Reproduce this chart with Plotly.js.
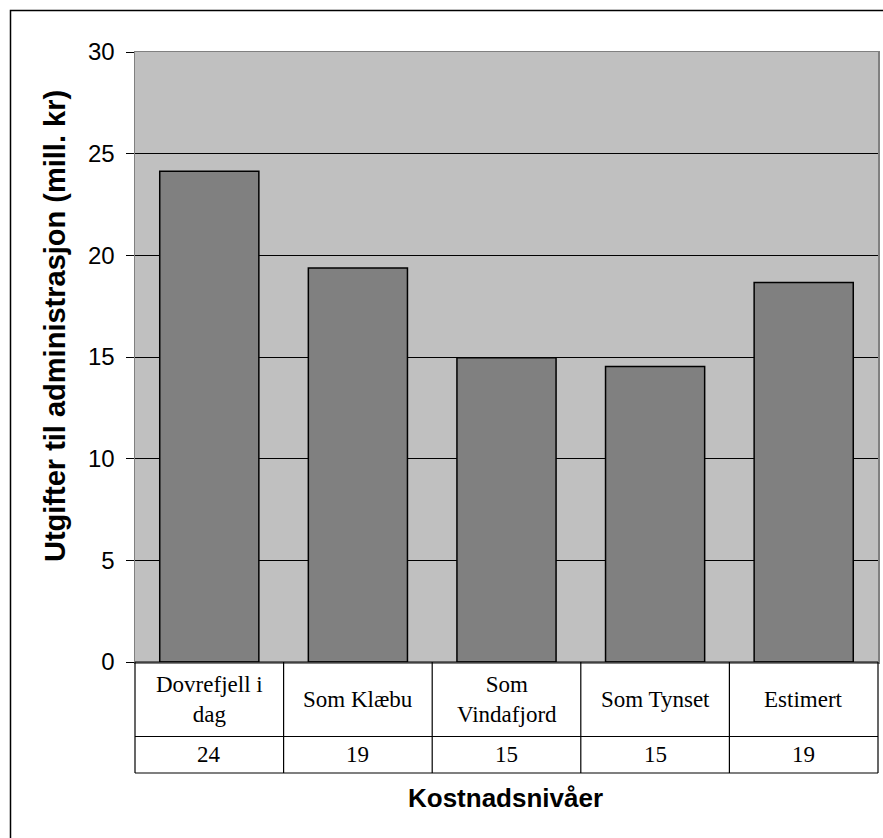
<!DOCTYPE html>
<html>
<head>
<meta charset="utf-8">
<script src="https://cdn.plot.ly/plotly-3.0.1.min.js"></script>
<style>
  html, body { margin: 0; padding: 0; background: #ffffff; }
  #chart { width: 883px; height: 838px; }
</style>
</head>
<body>
<div id="chart"></div>
<script>
// Administrative costs for Dovrefjell under different cost levels (mill. kr)
const categories = ['Dovrefjell i<br>dag', 'Som Klæbu', 'Som<br>Vindafjord', 'Som Tynset', 'Estimert'];
const values = [24.13, 19.38, 14.96, 14.53, 18.67];
const yTickValues = [0, 5, 10, 15, 20, 25, 30];
const yTitle = 'Utgifter til administrasjon (mill. kr)';
const xTitle = 'Kostnadsnivåer';

const W = 883, H = 838;
const M = { l: 135, r: 5, t: 52, b: 176 };
const plotW = W - M.l - M.r;
const plotH = H - M.t - M.b;

// pixel offsets below / left of the plot, converted to paper units
const belowPx = px => -px / plotH;
const leftPx = px => -px / plotW;

const SANS = 'Liberation Sans, Arial, sans-serif';
const SERIF = 'Liberation Serif, Times New Roman, serif';

const row1Bottom = 74.5, row2Bottom = 111;

const idx = categories.map((_, i) => i);

const trace = {
  type: 'bar',
  x: idx,
  y: values,
  marker: { color: '#808080', line: { color: '#000000', width: 1.5 } },
  hoverinfo: 'y'
};

const shapes = [];
// data table grid
[0, row1Bottom, row2Bottom].forEach(py => {
  shapes.push({ type: 'line', xref: 'paper', yref: 'paper', x0: 0, x1: 1,
    y0: belowPx(py), y1: belowPx(py), line: { color: '#000000', width: 1.2 } });
});
for (let i = 0; i <= categories.length; i++) {
  const xp = i / categories.length;
  shapes.push({ type: 'line', xref: 'paper', yref: 'paper', x0: xp, x1: xp,
    y0: 0, y1: belowPx(row2Bottom), line: { color: '#000000', width: 1.2 } });
}
// chart frame
shapes.push({ type: 'rect', xref: 'paper', yref: 'paper',
  x0: leftPx(M.l - 10.5), x1: 1.05, y0: -0.4, y1: 1 + (M.t - 10.5) / plotH,
  line: { color: '#000000', width: 1.5 }, fillcolor: 'rgba(0,0,0,0)' });

const annotations = [];
categories.forEach((c, i) => {
  annotations.push({ xref: 'x', yref: 'paper', x: i, y: belowPx(row1Bottom / 2),
    text: c, showarrow: false, xanchor: 'center', yanchor: 'middle',
    font: { family: SERIF, size: 23, color: '#000000' } });
  annotations.push({ xref: 'x', yref: 'paper', x: i, y: belowPx((row1Bottom + row2Bottom) / 2),
    text: String(Math.round(values[i])), showarrow: false, xanchor: 'center', yanchor: 'middle',
    font: { family: SERIF, size: 23, color: '#000000' } });
});
// axis titles
annotations.push({ xref: 'paper', yref: 'paper', x: leftPx(M.l - 55), y: (662 - 326) / plotH,
  text: '<b>' + yTitle + '</b>', textangle: -90, showarrow: false,
  xanchor: 'center', yanchor: 'middle', font: { family: SANS, size: 29, color: '#000000' } });
annotations.push({ xref: 'paper', yref: 'paper', x: (505 - M.l) / plotW, y: belowPx(798 - 662),
  text: '<b>' + xTitle + '</b>', showarrow: false,
  xanchor: 'center', yanchor: 'middle', font: { family: SANS, size: 26, color: '#000000' } });

const layout = {
  width: W, height: H,
  margin: M,
  paper_bgcolor: '#ffffff',
  plot_bgcolor: '#c0c0c0',
  showlegend: false,
  bargap: 0.333,
  xaxis: {
    type: 'linear', range: [-0.5, categories.length - 0.5],
    showticklabels: false, ticks: '', showgrid: false, zeroline: false,
    showline: true, mirror: true, linecolor: '#808080', linewidth: 1.5, fixedrange: true
  },
  yaxis: {
    range: [0, 30], tickvals: yTickValues, ticktext: yTickValues.map(String),
    ticks: 'outside', ticklen: 8, tickcolor: '#000000', tickwidth: 1,
    ticklabelstandoff: 6,
    tickfont: { family: SANS, size: 24, color: '#000000' },
    showgrid: true, gridcolor: '#000000', gridwidth: 1, zeroline: false,
    showline: true, mirror: true, linecolor: '#808080', linewidth: 1.5, fixedrange: true
  },
  shapes: shapes,
  annotations: annotations
};

Plotly.newPlot('chart', [trace], layout, { displayModeBar: false, staticPlot: true });
</script>
</body>
</html>
